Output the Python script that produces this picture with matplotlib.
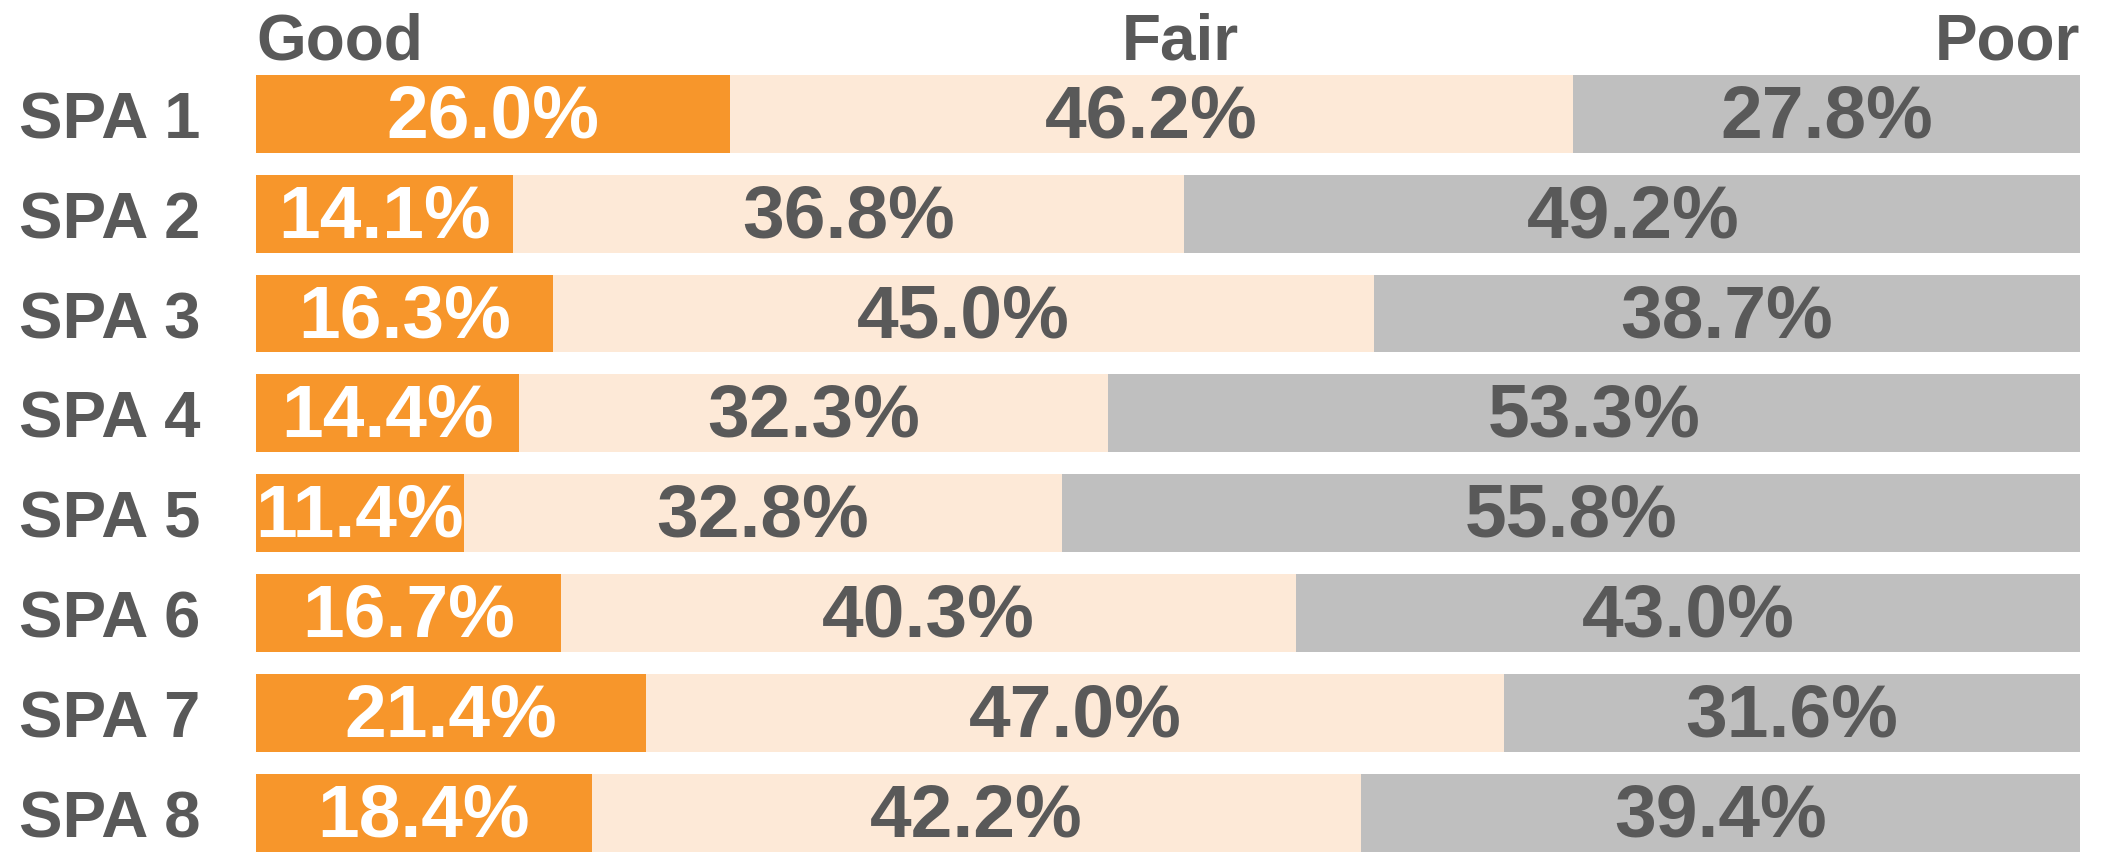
import matplotlib
matplotlib.use("Agg")
import matplotlib.pyplot as plt
import numpy as np

plt.rcParams['font.family'] = ['Liberation Sans', 'DejaVu Sans']
plt.rcParams['font.weight'] = 'bold'

regions = ['SPA 1', 'SPA 2', 'SPA 3', 'SPA 4', 'SPA 5', 'SPA 6', 'SPA 7', 'SPA 8']
good = [26.0, 14.1, 16.3, 14.4, 11.4, 16.7, 21.4, 18.4]
fair = [46.2, 36.8, 45.0, 32.3, 32.8, 40.3, 47.0, 42.2]
poor = [27.8, 49.2, 38.7, 53.3, 55.8, 43.0, 31.6, 39.4]
headers = ['Good', 'Fair', 'Poor']

TEXT = '#595959'
series = [(good, '#F7962B', 'white'),
          (fair, '#FDE9D7', TEXT),
          (poor, '#BFBFBF', TEXT)]

fig = plt.figure(figsize=(21.04, 8.54), dpi=100)
ax = fig.add_axes([256 / 2104, 0, (2080 - 256) / 2104, 1 - 76 / 854])

y = np.arange(len(regions))
left = np.zeros(len(regions))
for vals, color, tcolor in series:
    vals = np.array(vals)
    ax.barh(y, vals, left=left, height=0.78, color=color)
    for yi, l, v in zip(y, left, vals):
        ax.text(l + v / 2, yi + 0.03, f'{v:.1f}%', ha='center', va='center',
                fontsize=54, color=tcolor, fontweight='bold')
    left += vals

ax.set_xlim(0, 100)
ax.set_ylim(7.405, -0.39)
ax.set_yticks(y)
ax.set_yticklabels(regions, fontsize=47, color=TEXT, fontweight='bold')
ax.tick_params(axis='y', length=0, pad=40)
ax.set_xticks([])
for s in ax.spines.values():
    s.set_visible(False)

hy = 1 - 60 / 854
fig.text(256 / 2104, hy, headers[0], ha='left', va='baseline', fontsize=46,
         color=TEXT, fontweight='bold')
fig.text((256 + 2080) / 2 / 2104 + 0.006, hy, headers[1], ha='center', va='baseline',
         fontsize=46, color=TEXT, fontweight='bold')
fig.text(2080 / 2104, hy, headers[2], ha='right', va='baseline', fontsize=46,
         color=TEXT, fontweight='bold')

fig.savefig('out.png', dpi=100)
